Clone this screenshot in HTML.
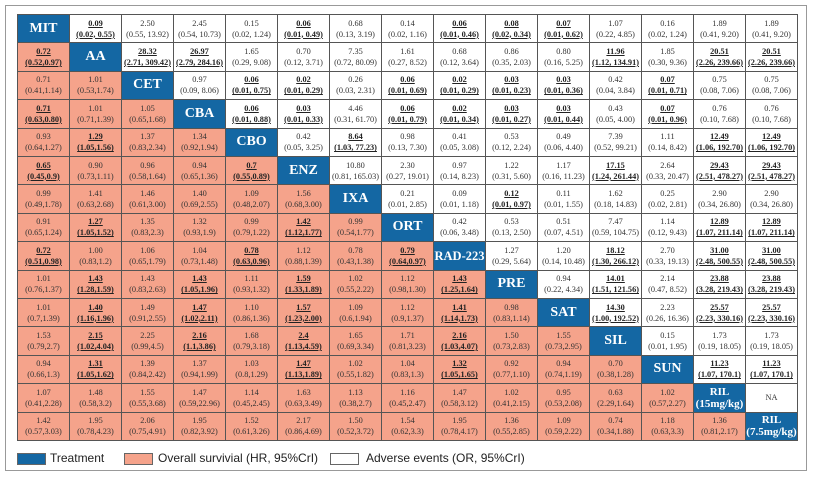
<!DOCTYPE html>
<html><head><meta charset="utf-8">
<style>
body{margin:0;width:814px;height:477px;background:#fff;overflow:hidden;position:relative;font-family:"Liberation Serif",serif}
#frame{position:absolute;left:5px;top:5px;width:802px;height:466px;border:1px solid #999;box-sizing:border-box}
.c{position:absolute;box-sizing:border-box;border:1px solid #555;text-align:center;font-size:8.3px;color:#333;line-height:11px;display:flex;flex-direction:column;justify-content:center;align-items:center;white-space:nowrap}
.t{background:#1467a3;color:#fff;font-weight:bold;font-size:14px;line-height:16px}
.t.r{font-size:12.5px}
.t.s{font-size:11px;line-height:12px}
.o{background:#f5a38b}
.a{background:#fff}
.sig{font-weight:bold;text-decoration:underline;color:#222}
.lg{position:absolute;top:453px;height:12px;width:29px;box-sizing:border-box;border:1px solid #666}
.lt{position:absolute;top:451px;font-family:"Liberation Sans",sans-serif;font-size:12px;color:#222}
</style></head><body>
<div id="frame"></div>
<div id="tbl"></div>
<div class="lg" style="left:17px;background:#1467a3"></div>
<div class="lt" style="left:50px">Treatment</div>
<div class="lg" style="left:124px;background:#f5a38b"></div>
<div class="lt" style="left:158px">Overall survivial (HR, 95%CrI)</div>
<div class="lg" style="left:330px;background:#fff"></div>
<div class="lt" style="left:366px">Adverse events (OR, 95%CrI)</div>
<script>
const treatments=["MIT","AA","CET","CBA","CBO","ENZ","IXA","ORT","RAD-223","PRE","SAT","SIL","SUN","RIL<br>(15mg/kg)","RIL<br>(7.5mg/kg)"];
const rows=[
["*0.09|(0.02, 0.55)","2.50|(0.55, 13.92)","2.45|(0.54, 10.73)","0.15|(0.02, 1.24)","*0.06|(0.01, 0.49)","0.68|(0.13, 3.19)","0.14|(0.02, 1.16)","*0.06|(0.01, 0.46)","*0.08|(0.02, 0.34)","*0.07|(0.01, 0.62)","1.07|(0.22, 4.85)","0.16|(0.02, 1.24)","1.89|(0.41, 9.20)","1.89|(0.41, 9.20)"],
["*0.72|(0.52,0.97)","*28.32|(2.71, 309.42)","*26.97|(2.79, 284.16)","1.65|(0.29, 9.08)","0.70|(0.12, 3.71)","7.35|(0.72, 80.09)","1.61|(0.27, 8.52)","0.68|(0.12, 3.64)","0.86|(0.35, 2.03)","0.80|(0.16, 5.25)","*11.96|(1.12, 134.91)","1.85|(0.30, 9.36)","*20.51|(2.26, 239.66)","*20.51|(2.26, 239.66)"],
["0.71|(0.41,1.14)","1.01|(0.53,1.74)","0.97|(0.09, 8.06)","*0.06|(0.01, 0.75)","*0.02|(0.01, 0.29)","0.26|(0.03, 2.31)","*0.06|(0.01, 0.69)","*0.02|(0.01, 0.29)","*0.03|(0.01, 0.23)","*0.03|(0.01, 0.36)","0.42|(0.04, 3.84)","*0.07|(0.01, 0.71)","0.75|(0.08, 7.06)","0.75|(0.08, 7.06)"],
["*0.71|(0.63,0.80)","1.01|(0.71,1.39)","1.05|(0.65,1.68)","*0.06|(0.01, 0.88)","*0.03|(0.01, 0.33)","4.46|(0.31, 61.70)","*0.06|(0.01, 0.79)","*0.02|(0.01, 0.34)","*0.03|(0.01, 0.27)","*0.03|(0.01, 0.44)","0.43|(0.05, 4.00)","*0.07|(0.01, 0.96)","0.76|(0.10, 7.68)","0.76|(0.10, 7.68)"],
["0.93|(0.64,1.27)","*1.29|(1.05,1.56)","1.37|(0.83,2.34)","1.34|(0.92,1.94)","0.42|(0.05, 3.25)","*8.64|(1.03, 77.23)","0.98|(0.13, 7.30)","0.41|(0.05, 3.08)","0.53|(0.12, 2.24)","0.49|(0.06, 4.40)","7.39|(0.52, 99.21)","1.11|(0.14, 8.42)","*12.49|(1.06, 192.70)","*12.49|(1.06, 192.70)"],
["*0.65|(0.45,0.9)","0.90|(0.73,1.11)","0.96|(0.58,1.64)","0.94|(0.65,1.36)","*0.7|(0.55,0.89)","10.80|(0.81, 165.03)","2.30|(0.27, 19.01)","0.97|(0.14, 8.23)","1.22|(0.31, 5.60)","1.17|(0.16, 11.23)","*17.15|(1.24, 261.44)","2.64|(0.33, 20.47)","*29.43|(2.51, 478.27)","*29.43|(2.51, 478.27)"],
["0.99|(0.49,1.78)","1.41|(0.63,2.68)","1.46|(0.61,3.00)","1.40|(0.69,2.55)","1.09|(0.48,2.07)","1.56|(0.68,3.00)","0.21|(0.01, 2.85)","0.09|(0.01, 1.18)","*0.12|(0.01, 0.97)","0.11|(0.01, 1.55)","1.62|(0.18, 14.83)","0.25|(0.02, 2.81)","2.90|(0.34, 26.80)","2.90|(0.34, 26.80)"],
["0.91|(0.65,1.24)","*1.27|(1.05,1.52)","1.35|(0.83,2.3)","1.32|(0.93,1.9)","0.99|(0.79,1.22)","*1.42|(1.12,1.77)","0.99|(0.54,1.77)","0.42|(0.06, 3.48)","0.53|(0.13, 2.50)","0.51|(0.07, 4.51)","7.47|(0.59, 104.75)","1.14|(0.12, 9.43)","*12.89|(1.07, 211.14)","*12.89|(1.07, 211.14)"],
["*0.72|(0.51,0.98)","1.00|(0.83,1.2)","1.06|(0.65,1.79)","1.04|(0.73,1.48)","*0.78|(0.63,0.96)","1.12|(0.88,1.39)","0.78|(0.43,1.38)","*0.79|(0.64,0.97)","1.27|(0.29, 5.64)","1.20|(0.14, 10.48)","*18.12|(1.30, 266.12)","2.70|(0.33, 19.13)","*31.00|(2.48, 500.55)","*31.00|(2.48, 500.55)"],
["1.01|(0.76,1.37)","*1.43|(1.28,1.59)","1.43|(0.83,2.63)","*1.43|(1.05,1.96)","1.11|(0.93,1.32)","*1.59|(1.33,1.89)","1.02|(0.55,2.22)","1.12|(0.98,1.30)","*1.43|(1.25,1.64)","0.94|(0.22, 4.34)","*14.01|(1.51, 121.56)","2.14|(0.47, 8.52)","*23.88|(3.28, 219.43)","*23.88|(3.28, 219.43)"],
["1.01|(0.7,1.39)","*1.40|(1.16,1.96)","1.49|(0.91,2.55)","*1.47|(1.02,2.11)","1.10|(0.86,1.36)","*1.57|(1.23,2.00)","1.09|(0.6,1.94)","1.12|(0.9,1.37)","*1.41|(1.14,1.73)","0.98|(0.83,1.14)","*14.30|(1.00, 192.52)","2.23|(0.26, 16.36)","*25.57|(2.23, 330.16)","*25.57|(2.23, 330.16)"],
["1.53|(0.79,2.7)","*2.15|(1.02,4.04)","2.25|(0.99,4.5)","*2.16|(1.1,3.86)","1.68|(0.79,3.18)","*2.4|(1.13,4.59)","1.65|(0.69,3.34)","1.71|(0.81,3.23)","*2.16|(1.03,4.07)","1.50|(0.73,2.83)","1.55|(0.73,2.95)","0.15|(0.01, 1.95)","1.73|(0.19, 18.05)","1.73|(0.19, 18.05)"],
["0.94|(0.66,1.3)","*1.31|(1.05,1.62)","1.39|(0.84,2.42)","1.37|(0.94,1.99)","1.03|(0.8,1.29)","*1.47|(1.13,1.89)","1.02|(0.55,1.82)","1.04|(0.83,1.3)","*1.32|(1.05,1.65)","0.92|(0.77,1.10)","0.94|(0.74,1.19)","0.70|(0.38,1.28)","*11.23|(1.07, 170.1)","*11.23|(1.07, 170.1)"],
["1.07|(0.41,2.28)","1.48|(0.58,3.2)","1.55|(0.55,3.68)","1.47|(0.59,22.96)","1.14|(0.45,2.45)","1.63|(0.63,3.49)","1.13|(0.38,2.7)","1.16|(0.45,2.47)","1.47|(0.58,3.12)","1.02|(0.41,2.15)","0.95|(0.53,2.08)","0.63|(2.29,1.64)","1.02|(0.57,2.27)","NA"],
["1.42|(0.57,3.03)","1.95|(0.78,4.23)","2.06|(0.75,4.91)","1.95|(0.82,3.92)","1.52|(0.61,3.26)","2.17|(0.86,4.69)","1.50|(0.52,3.72)","1.54|(0.62,3.3)","1.95|(0.78,4.17)","1.36|(0.55,2.85)","1.09|(0.59,2.22)","0.74|(0.34,1.88)","1.18|(0.63,3.3)","1.36|(0.81,2.17)"]
];
const X0=17,Y0=14,CW=52,RH=28.4;
const tbl=document.getElementById('tbl');
for(let i=0;i<15;i++){
  for(let j=0;j<15;j++){
    const d=document.createElement('div');
    d.style.left=(X0+j*CW)+'px';d.style.top=(Y0+i*RH)+'px';
    d.style.width=(CW+1)+'px';d.style.height=(RH+1)+'px';
    if(i===j){
      d.className='c t'+(i>=13?' s':'')+(i===8?' r':'');
      d.innerHTML=treatments[i];
      
      
    }else{
      const v=rows[i][j<i?j:j-1];
      d.className='c '+(j<i?'o':'a');
      
      
      if(v==='NA'){d.textContent='NA';}
      else{
        const sig=v[0]==='*';const p=(sig?v.slice(1):v).split('|');
        d.innerHTML='<span'+(sig?' class="sig"':'')+'>'+p[0]+'</span><span'+(sig?' class="sig"':'')+'>'+p[1]+'</span>';
      }
    }
    tbl.appendChild(d);
  }
}
</script>
</body></html>
